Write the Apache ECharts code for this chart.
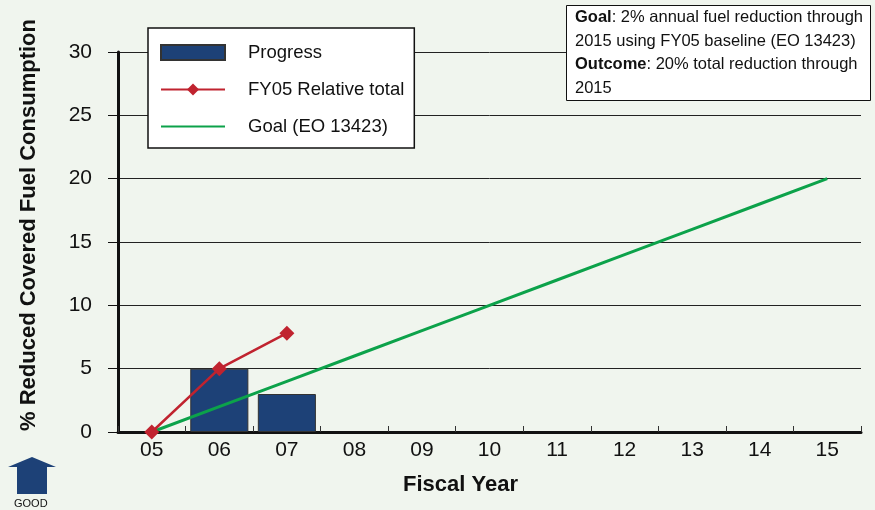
<!DOCTYPE html>
<html>
<head>
<meta charset="utf-8">
<script src="https://cdn.jsdelivr.net/npm/echarts@6/dist/echarts.min.js"></script>
<style>
  html, body { margin: 0; padding: 0; background: #f0f5ee; }
  #chart { width: 875px; height: 510px; }
</style>
</head>
<body>
<div id="chart"></div>
<script>
// fiscal years on the x axis
const years = ['05', '06', '07', '08', '09', '10', '11', '12', '13', '14', '15'];
// bars (percent reduction per year)
const progress = ['-', 5.0, 3.0];
// cumulative relative to FY05
const relativeTotal = [0, 5.0, 7.8];
// 2% per year goal line
const goal = [0, 2, 4, 6, 8, 10, 12, 14, 16, 18, 20];
const yTicks = [0, 5, 10, 15, 20, 25, 30];

const font = 'Arial, "Liberation Sans", sans-serif';
const chart = echarts.init(document.getElementById('chart'));

chart.setOption({
  backgroundColor: '#f0f5ee',
  animation: false,
  textStyle: { fontFamily: font },
  grid: { left: 118, right: 14, top: 52, bottom: 78 },
  legend: {
    orient: 'vertical',
    left: 148,
    top: 28,
    padding: [15, 10, 12, 12],
    itemGap: 18,
    itemWidth: 64,
    itemHeight: 15,
    backgroundColor: '#ffffff',
    borderColor: '#111',
    borderWidth: 1.5,
    borderRadius: 0,
    textStyle: { fontSize: 18.5, color: '#111', padding: [0, 0, 0, 18] },
    data: [
      { name: 'Progress', icon: 'rect' },
      { name: 'FY05 Relative total' },
      { name: 'Goal (EO 13423)', itemStyle: { opacity: 0 } }
    ]
  },
  xAxis: {
    type: 'category',
    data: years,
    name: 'Fiscal Year',
    nameLocation: 'middle',
    nameGap: 42,
    nameTextStyle: { fontSize: 22, fontWeight: 'bold', color: '#111', padding: [0, 58, 0, 0] },
    axisLine: { lineStyle: { color: '#111', width: 3 } },
    axisTick: { show: true, inside: true, length: 6, lineStyle: { color: '#333', width: 1 } },
    axisLabel: { fontSize: 21, color: '#111', margin: 8 },
    splitLine: { show: false }
  },
  yAxis: {
    type: 'value',
    min: 0,
    max: 30,
    interval: 5,
    name: '% Reduced Covered Fuel Consumption',
    nameLocation: 'middle',
    nameGap: 78,
    nameTextStyle: { fontSize: 22, fontWeight: 'bold', color: '#111', padding: [0, 0, 0, 34] },
    axisLine: { show: true, lineStyle: { color: '#111', width: 3 } },
    axisTick: { show: true, length: 10, lineStyle: { color: '#111', width: 1 } },
    axisLabel: {
      fontSize: 21, color: '#111', margin: 26,
      formatter: v => yTicks.includes(v) ? String(v) : ''
    },
    splitLine: { show: true, lineStyle: { color: '#222', width: 1 } }
  },
  series: [
    {
      name: 'Progress',
      type: 'bar',
      data: progress,
      barWidth: '86%',
      itemStyle: { color: '#1d4177', borderColor: '#333', borderWidth: 1 },
      z: 2
    },
    {
      name: 'Goal (EO 13423)',
      type: 'line',
      data: goal,
      symbol: 'none',
      lineStyle: { color: '#0ca24a', width: 3 },
      itemStyle: { color: '#0ca24a' },
      z: 3
    },
    {
      name: 'FY05 Relative total',
      type: 'line',
      data: relativeTotal,
      symbol: 'diamond',
      symbolSize: 15,
      lineStyle: { color: '#c0232f', width: 2.5 },
      itemStyle: { color: '#c0232f' },
      z: 4
    }
  ],
  graphic: [
    {
      type: 'rect',
      left: 566, top: 5, z: 100,
      shape: { width: 304, height: 95 },
      style: { fill: '#ffffff', stroke: '#111', lineWidth: 1 }
    },
    {
      type: 'text',
      left: 575, top: 6, z: 101,
      style: {
        text: '{b|Goal}: 2% annual fuel reduction through\n2015 using FY05 baseline (EO 13423)\n{b|Outcome}: 20% total reduction through\n2015',
        fontSize: 16.5,
        lineHeight: 23.5,
        fill: '#111',
        fontFamily: font,
        rich: {
          b: { fontWeight: 'bold', fontSize: 16.5, fontFamily: font, fill: '#111' }
        }
      }
    },
    {
      type: 'polygon',
      shape: { points: [[32, 457], [56, 467], [47, 467], [47, 494], [17, 494], [17, 467], [8, 467]] },
      style: { fill: '#1d4177' }
    },
    {
      type: 'text',
      left: 14, top: 498,
      style: { text: 'GOOD', fontSize: 11, fill: '#111', fontFamily: font }
    }
  ]
});
</script>
</body>
</html>
